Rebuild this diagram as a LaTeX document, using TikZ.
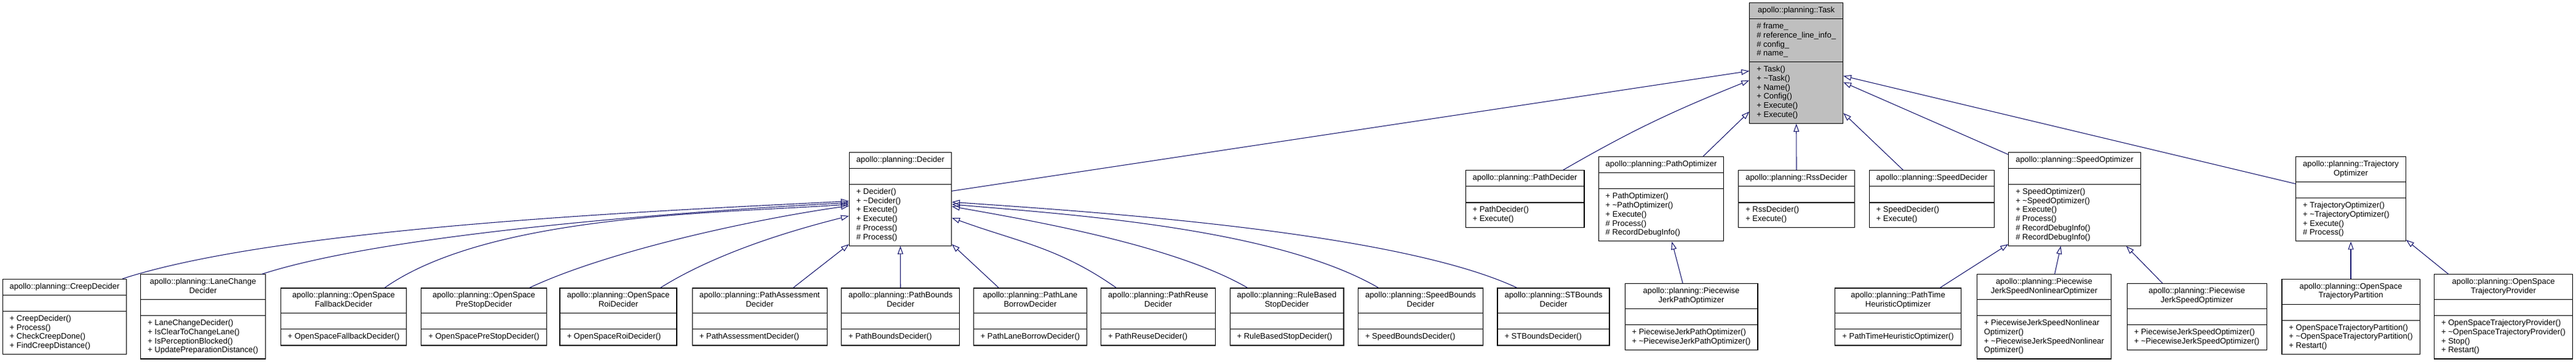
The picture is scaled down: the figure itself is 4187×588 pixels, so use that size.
\documentclass[tikz,border=0pt]{standalone}
\usepackage{fontspec}
\setmainfont{Liberation Sans}
\usepackage{tikz}
\usetikzlibrary{shapes.multipart}
\usetikzlibrary{arrows.meta}
\usetikzlibrary{calc}
\definecolor{edgeblue}{HTML}{191970}
\newcommand{\ctitle}[1]{\begin{tabular}{@{}c@{}}#1\end{tabular}}
\newcommand{\mlist}[1]{\begin{tabular}{@{}l@{}}#1\end{tabular}}

\begin{document}
\begin{tikzpicture}[x=1pt,y=1pt,
  cls/.style={rectangle split,rectangle split parts=3,
    rectangle split part align={center,left,left},
    draw=black,fill=white,line width=1.1pt,
    inner xsep=11.5pt,inner ysep=5.15pt,
    font=\fontsize{13}{14.7}\selectfont},
  inh/.style={draw=edgeblue,line width=1.1pt,-{Triangle[open,length=13pt,width=9pt]}}]
\useasboundingbox (0,0) rectangle (4187,588);
\draw
(2919.7,485.5) node[cls,fill=black!25](task){\ctitle{apollo::planning::Task}\nodepart{two}\mlist{\# frame\_\\\# reference\_line\_info\_\\\# config\_\\\# name\_}\nodepart{three}\mlist{+ Task()\\+ \textasciitilde Task()\\+ Name()\\+ Config()\\+ Execute()\\+ Execute()}}
(1463.5,264.7) node[cls](decider){\ctitle{apollo::planning::Decider}\nodepart{two}\strut\nodepart{three}\mlist{+ Decider()\\+ \textasciitilde Decider()\\+ Execute()\\+ Execute()\\\# Process()\\\# Process()}}
(2478.5,264.7) node[cls](pathdec){\ctitle{apollo::planning::PathDecider}\nodepart{two}\strut\nodepart{three}\mlist{+ PathDecider()\\+ Execute()}}
(2700,264.7) node[cls](pathopt){\ctitle{apollo::planning::PathOptimizer}\nodepart{two}\strut\nodepart{three}\mlist{+ PathOptimizer()\\+ \textasciitilde PathOptimizer()\\+ Execute()\\\# Process()\\\# RecordDebugInfo()}}
(2920,264.7) node[cls](rss){\ctitle{apollo::planning::RssDecider}\nodepart{two}\strut\nodepart{three}\mlist{+ RssDecider()\\+ Execute()}}
(3140,264.7) node[cls](speeddec){\ctitle{apollo::planning::SpeedDecider}\nodepart{two}\strut\nodepart{three}\mlist{+ SpeedDecider()\\+ Execute()}}
(3372,264.7) node[cls](speedopt){\ctitle{apollo::planning::SpeedOptimizer}\nodepart{two}\strut\nodepart{three}\mlist{+ SpeedOptimizer()\\+ \textasciitilde SpeedOptimizer()\\+ Execute()\\\# Process()\\\# RecordDebugInfo()\\\# RecordDebugInfo()}}
(3821,264.7) node[cls](trajopt){\ctitle{apollo::planning::Trajectory\\Optimizer}\nodepart{two}\strut\nodepart{three}\mlist{+ TrajectoryOptimizer()\\+ \textasciitilde TrajectoryOptimizer()\\+ Execute()\\\# Process()}}
(105,73.5) node[cls](creep){\ctitle{apollo::planning::CreepDecider}\nodepart{two}\strut\nodepart{three}\mlist{+ CreepDecider()\\+ Process()\\+ CheckCreepDone()\\+ FindCreepDistance()}}
(330,73.5) node[cls](lanechange){\ctitle{apollo::planning::LaneChange\\Decider}\nodepart{two}\strut\nodepart{three}\mlist{+ LaneChangeDecider()\\+ IsClearToChangeLane()\\+ IsPerceptionBlocked()\\+ UpdatePreparationDistance()}}
(558.5,73.5) node[cls](fallback){\ctitle{apollo::planning::OpenSpace\\FallbackDecider}\nodepart{two}\strut\nodepart{three}\mlist{+ OpenSpaceFallbackDecider()}}
(786.5,73.5) node[cls](prestop){\ctitle{apollo::planning::OpenSpace\\PreStopDecider}\nodepart{two}\strut\nodepart{three}\mlist{+ OpenSpacePreStopDecider()}}
(1005,73.5) node[cls](roi){\ctitle{apollo::planning::OpenSpace\\RoiDecider}\nodepart{two}\strut\nodepart{three}\mlist{+ OpenSpaceRoiDecider()}}
(1234.7,73.5) node[cls](assess){\ctitle{apollo::planning::PathAssessment\\Decider}\nodepart{two}\strut\nodepart{three}\mlist{+ PathAssessmentDecider()}}
(1463.7,73.5) node[cls](bounds){\ctitle{apollo::planning::PathBounds\\Decider}\nodepart{two}\strut\nodepart{three}\mlist{+ PathBoundsDecider()}}
(1674.5,73.5) node[cls](borrow){\ctitle{apollo::planning::PathLane\\BorrowDecider}\nodepart{two}\strut\nodepart{three}\mlist{+ PathLaneBorrowDecider()}}
(1882.5,73.5) node[cls](reuse){\ctitle{apollo::planning::PathReuse\\Decider}\nodepart{two}\strut\nodepart{three}\mlist{+ PathReuseDecider()}}
(2091.5,73.5) node[cls](rulestop){\ctitle{apollo::planning::RuleBased\\StopDecider}\nodepart{two}\strut\nodepart{three}\mlist{+ RuleBasedStopDecider()}}
(2309,73.5) node[cls](sbounds){\ctitle{apollo::planning::SpeedBounds\\Decider}\nodepart{two}\strut\nodepart{three}\mlist{+ SpeedBoundsDecider()}}
(2525,73.5) node[cls](stbounds){\ctitle{apollo::planning::STBounds\\Decider}\nodepart{two}\strut\nodepart{three}\mlist{+ STBoundsDecider()}}
(2749,73.5) node[cls](pjpath){\ctitle{apollo::planning::Piecewise\\JerkPathOptimizer}\nodepart{two}\strut\nodepart{three}\mlist{+ PiecewiseJerkPathOptimizer()\\+ \textasciitilde PiecewiseJerkPathOptimizer()}}
(3085,73.5) node[cls](pthopt){\ctitle{apollo::planning::PathTime\\HeuristicOptimizer}\nodepart{two}\strut\nodepart{three}\mlist{+ PathTimeHeuristicOptimizer()}}
(3322.5,73.5) node[cls](pjsnl){\ctitle{apollo::planning::Piecewise\\JerkSpeedNonlinearOptimizer}\nodepart{two}\strut\nodepart{three}\mlist{+ PiecewiseJerkSpeedNonlinear\\Optimizer()\\+ \textasciitilde PiecewiseJerkSpeedNonlinear\\Optimizer()}}
(3570.7,73.5) node[cls](pjspeed){\ctitle{apollo::planning::Piecewise\\JerkSpeedOptimizer}\nodepart{two}\strut\nodepart{three}\mlist{+ PiecewiseJerkSpeedOptimizer()\\+ \textasciitilde PiecewiseJerkSpeedOptimizer()}}
(3821,73.5) node[cls](partition){\ctitle{apollo::planning::OpenSpace\\TrajectoryPartition}\nodepart{two}\strut\nodepart{three}\mlist{+ OpenSpaceTrajectoryPartition()\\+ \textasciitilde OpenSpaceTrajectoryPartition()\\+ Restart()}}
(4069,73.5) node[cls](provider){\ctitle{apollo::planning::OpenSpace\\TrajectoryProvider}\nodepart{two}\strut\nodepart{three}\mlist{+ OpenSpaceTrajectoryProvider()\\+ \textasciitilde OpenSpaceTrajectoryProvider()\\+ Stop()\\+ Restart()}}
;
\draw[inh](bounds.north)--(decider.south);
\draw[inh](partition.north)--(trajopt.south);
\draw[inh](rss.north)--(task.south);
\draw[inh]($(assess.north west)!0.748!(assess.north east)$)--($(decider.north west)!0.98!(decider.south west)$);
\draw[inh]($(borrow.north west)!0.224!(borrow.north east)$)--($(decider.north east)!0.98!(decider.south east)$);
\draw[inh]($(pathopt.north west)!0.832!(pathopt.north east)$)--($(task.north west)!0.9!(task.south west)$);
\draw[inh]($(speeddec.north west)!0.272!(speeddec.north east)$)--($(task.north east)!0.912!(task.south east)$);
\draw[inh]($(pjpath.north west)!0.436!(pjpath.north east)$)--($(pathopt.south west)!0.585!(pathopt.south east)$);
\draw[inh]($(pthopt.north west)!0.832!(pthopt.north east)$)--($(speedopt.north west)!0.98!(speedopt.south west)$);
\draw[inh]($(pjsnl.north west)!0.578!(pjsnl.north east)$)--($(speedopt.south west)!0.396!(speedopt.south east)$);
\draw[inh]($(pjspeed.north west)!0.255!(pjspeed.north east)$)--($(speedopt.south west)!0.889!(speedopt.south east)$);
\draw[inh]($(provider.north west)!0.105!(provider.north east)$)--($(trajopt.north east)!0.98!(trajopt.south east)$);
\draw[inh]($(speedopt.north west)!0.027!(speedopt.south west)$)--($(task.north east)!0.658!(task.south east)$);
\draw[inh]($(trajopt.north west)!0.321!(trajopt.south west)$)--($(task.north east)!0.606!(task.south east)$);
\draw[inh]($(decider.north east)!0.415!(decider.south east)$)--($(task.north west)!0.565!(task.south west)$);
\draw[inh]($(creep.north west)!0.965!(creep.north east)$) .. controls +(264.4,85.9) and +(-277.6,-14.5) .. ($(decider.north west)!0.522!(decider.south west)$);
\draw[inh]($(lanechange.north west)!0.968!(lanechange.north east)$) .. controls +(213,69.2) and +(-223.7,-11.7) .. ($(decider.north west)!0.539!(decider.south west)$);
\draw[inh]($(fallback.north west)!0.824!(fallback.north east)$) .. controls +(171.5,120.1) and +(-208.9,-14.6) .. ($(decider.north west)!0.556!(decider.south west)$);
\draw[inh]($(prestop.north west)!0.862!(prestop.north east)$) .. controls +(133.7,62.3) and +(-146.1,-20.5) .. ($(decider.north west)!0.572!(decider.south west)$);
\draw[inh]($(roi.north west)!0.858!(roi.north east)$) .. controls +(87.7,54.8) and +(-100.3,-25) .. ($(decider.north west)!0.68!(decider.south west)$);
\draw[inh]($(reuse.north west)!0.135!(reuse.north east)$) .. controls +(-94,65.8) and +(107.9,-39.3) .. ($(decider.north east)!0.70!(decider.south east)$);
\draw[inh]($(rulestop.north west)!0.157!(rulestop.north east)$) .. controls +(-118.8,68.6) and +(135.1,-23.8) .. ($(decider.north east)!0.579!(decider.south east)$);
\draw[inh]($(sbounds.north west)!0.165!(sbounds.north east)$) .. controls +(-168.4,97.2) and +(193.7,-16.9) .. ($(decider.north east)!0.556!(decider.south east)$);
\draw[inh]($(stbounds.north west)!0.176!(stbounds.north east)$) .. controls +(-198.1,92.4) and +(218.1,-15.2) .. ($(decider.north east)!0.532!(decider.south east)$);
\draw[inh]($(pathdec.north west)!0.82!(pathdec.north east)$) .. controls +(115.2,66.5) and +(-123.3,-49.8) .. ($(task.north west)!0.642!(task.south west)$);
\end{tikzpicture}
\end{document}
